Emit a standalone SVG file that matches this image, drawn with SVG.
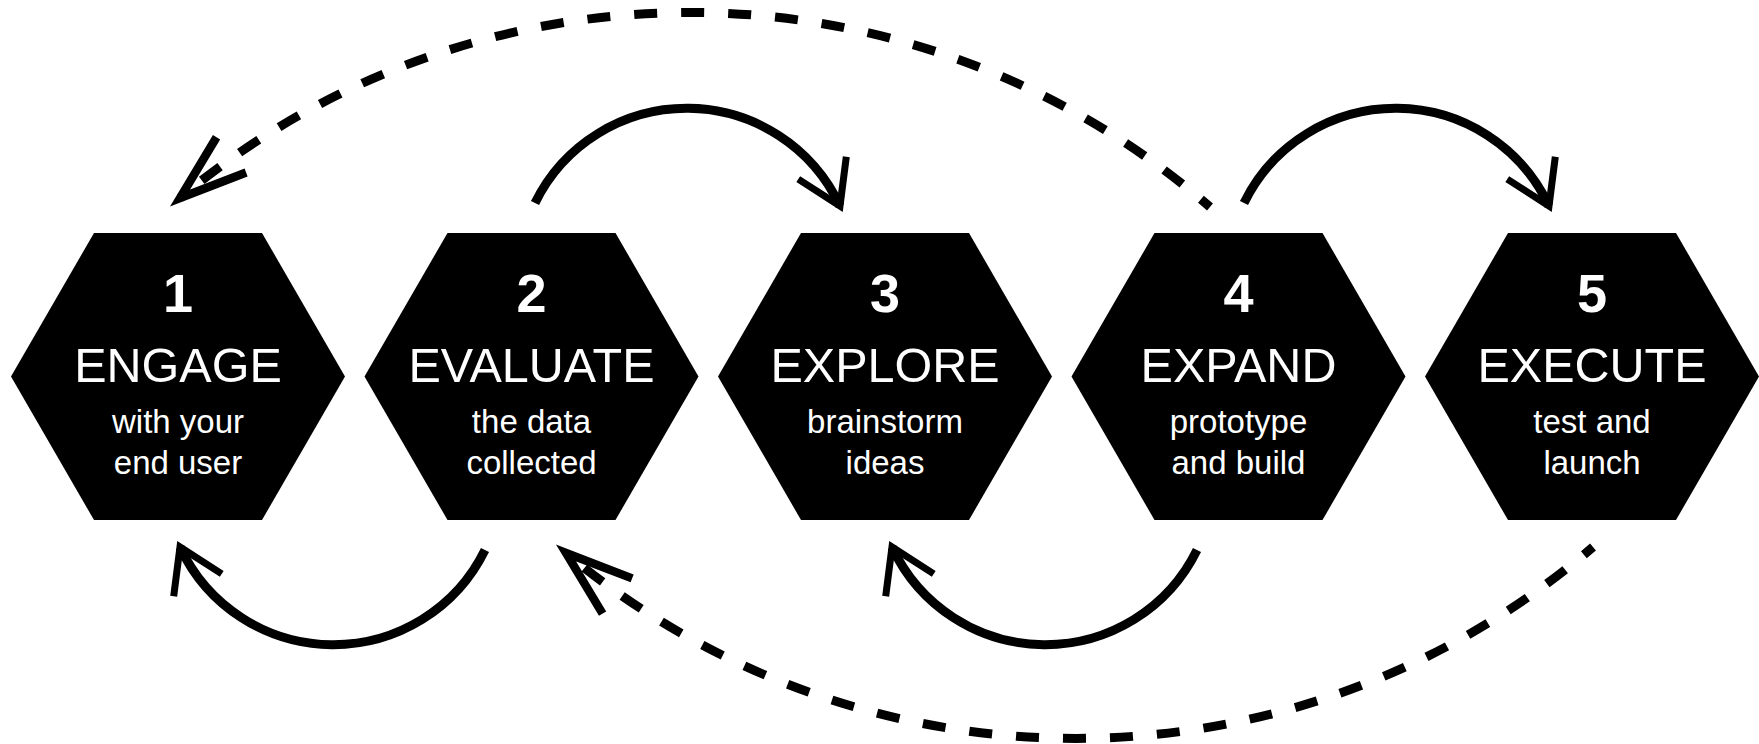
<svg xmlns="http://www.w3.org/2000/svg" width="1759" height="744" viewBox="0 0 1759 744">
  <style>
    .hex { fill: #000; }
    .num { font-family: "Liberation Sans", Arial, sans-serif; font-weight: bold; font-size: 54px; fill: #fff; text-anchor: middle; }
    .title { font-family: "Liberation Sans", Arial, sans-serif; font-size: 48.5px; fill: #fff; text-anchor: middle; }
    .sub { font-family: "Liberation Sans", Arial, sans-serif; font-size: 33px; fill: #fff; text-anchor: middle; }
    .solid { fill: none; stroke: #000; stroke-width: 9; marker-end: url(#headSolid); }
    .dashed { fill: none; stroke: #000; stroke-width: 9; stroke-dasharray: 23 24; stroke-dashoffset: 11; marker-end: url(#headDashed); }
  </style>
  <defs>
    <polygon id="hexShape" points="-167,0 -84,-143.5 84,-143.5 167,0 84,143.5 -84,143.5"/>
    <marker id="headSolid" markerUnits="userSpaceOnUse" markerWidth="120" markerHeight="120" refX="0" refY="0" orient="auto" overflow="visible">
      <polyline points="-42,-26.5 0,0 -42,26.5" fill="none" stroke="#000" stroke-width="7" stroke-linejoin="miter"/>
    </marker>
    <marker id="headDashed" markerUnits="userSpaceOnUse" markerWidth="160" markerHeight="160" refX="0" refY="0" orient="auto" overflow="visible">
      <polyline points="-67,-23 0,0 -67,23" fill="none" stroke="#000" stroke-width="8.5" stroke-linejoin="miter"/>
    </marker>
  </defs>

  <rect width="1759" height="744" fill="#fff"/>

  <!-- process steps -->
  <g id="step1">
    <use href="#hexShape" class="hex" x="178" y="376.5"/>
    <text class="num" x="178" y="312">1</text>
    <text class="title" x="178" y="382">ENGAGE</text>
    <text class="sub" x="178" y="433">with your</text>
    <text class="sub" x="178" y="474">end user</text>
  </g>
  <g id="step2">
    <use href="#hexShape" class="hex" x="531.5" y="376.5"/>
    <text class="num" x="531.5" y="312">2</text>
    <text class="title" x="531.5" y="382">EVALUATE</text>
    <text class="sub" x="531.5" y="433">the data</text>
    <text class="sub" x="531.5" y="474">collected</text>
  </g>
  <g id="step3">
    <use href="#hexShape" class="hex" x="885" y="376.5"/>
    <text class="num" x="885" y="312">3</text>
    <text class="title" x="885" y="382">EXPLORE</text>
    <text class="sub" x="885" y="433">brainstorm</text>
    <text class="sub" x="885" y="474">ideas</text>
  </g>
  <g id="step4">
    <use href="#hexShape" class="hex" x="1238.5" y="376.5"/>
    <text class="num" x="1238.5" y="312">4</text>
    <text class="title" x="1238.5" y="382">EXPAND</text>
    <text class="sub" x="1238.5" y="433">prototype</text>
    <text class="sub" x="1238.5" y="474">and build</text>
  </g>
  <g id="step5">
    <use href="#hexShape" class="hex" x="1592" y="376.5"/>
    <text class="num" x="1592" y="312">5</text>
    <text class="title" x="1592" y="382">EXECUTE</text>
    <text class="sub" x="1592" y="433">test and</text>
    <text class="sub" x="1592" y="474">launch</text>
  </g>

  <!-- connectors -->
  <g id="connectors">
    <path id="c2to3" class="solid" d="M535,203 A169,169 0 0 1 840,206"/>
    <path id="c4to5" class="solid" d="M1244,203 A169,169 0 0 1 1549,206"/>
    <path id="c2to1" class="solid" d="M485,550 A169,169 0 0 1 180,547"/>
    <path id="c4to3" class="solid" d="M1197,550 A169,169 0 0 1 892,547"/>
    <path id="c4to1" class="dashed" d="M1210,207 A793,793 0 0 0 180,198"/>
    <path id="c5to2" class="dashed" d="M1593,547 A794,794 0 0 1 566,553"/>
  </g>
</svg>
